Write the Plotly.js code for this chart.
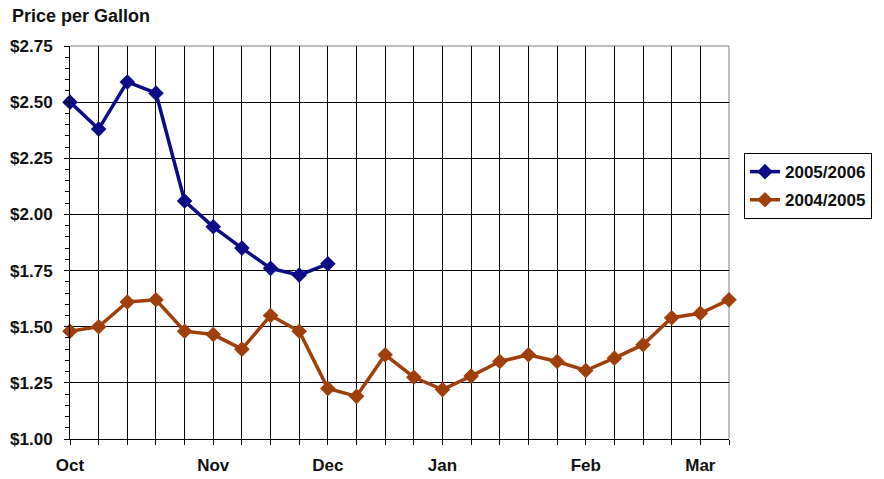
<!DOCTYPE html>
<html>
<head>
<meta charset="utf-8">
<script src="https://cdn.plot.ly/plotly-3.0.1.min.js"></script>
<style>html,body{margin:0;padding:0;background:#fff;}#chart{width:884px;height:479px;}</style>
</head>
<body>
<div id="chart"></div>
<script>
// Weekly points, Oct through early Mar (24 weeks)
var weekLabels = ["Oct","","","","","Nov","","","","Dec","","","","Jan","","","","","Feb","","","","Mar",""];
var season0506 = [2.50, 2.38, 2.59, 2.54, 2.06, 1.945, 1.85, 1.76, 1.73, 1.78];
var season0405 = [1.48, 1.50, 1.61, 1.62, 1.48, 1.465, 1.40, 1.55, 1.48, 1.225, 1.19, 1.375, 1.275, 1.22, 1.28, 1.345, 1.375, 1.345, 1.305, 1.36, 1.42, 1.54, 1.56, 1.62];
var seriesNames = ["2005/2006", "2004/2005"];

var weekIdx = weekLabels.map(function(_, i){ return i; });

var fam = "Liberation Sans, Arial, sans-serif";

var traces = [
  {
    x: weekIdx.slice(0, season0506.length), y: season0506, name: seriesNames[0],
    type: "scatter", mode: "lines+markers", cliponaxis: false,
    legendgroup: "a",
    line: {color: "#0c0c86", width: 3.5},
    marker: {symbol: "diamond", size: 12, color: "#0c0c86"}
  },
  {
    x: weekIdx, y: season0405, name: seriesNames[1],
    type: "scatter", mode: "lines+markers", cliponaxis: false,
    legendgroup: "b",
    line: {color: "#9e3f0c", width: 3.5},
    marker: {symbol: "diamond", size: 12, color: "#9e3f0c"}
  }
];

var layout = {
  width: 884, height: 479,
  margin: {l: 70, r: 155, t: 46, b: 40, pad: 0},
  paper_bgcolor: "#fff", plot_bgcolor: "#fff",
  font: {family: fam, size: 17, color: "#111", weight: "bold"},
  title: {
    text: "<b>Price per Gallon</b>",
    font: {family: fam, size: 18, color: "#111"},
    xref: "container", yref: "container",
    x: 12/884, xanchor: "left",
    y: 1 - 16/479, yanchor: "middle"
  },
  showlegend: true,
  legend: {
    x: (744-70)/659, xanchor: "left",
    y: (438.7-153)/392.7, yanchor: "top",
    bordercolor: "#000", borderwidth: 1, bgcolor: "#fff",
    traceorder: "grouped", tracegroupgap: 3,
    font: {family: fam, size: 17, color: "#111", weight: "bold"}
  },
  xaxis: {
    range: [0, 23],
    tickmode: "array", tickvals: weekIdx, ticktext: weekLabels,
    ticks: "outside", ticklen: 5, tickcolor: "#000", tickwidth: 1,
    showgrid: true, gridcolor: "#000", gridwidth: 1,
    showline: true, linecolor: "#000", linewidth: 1,
    zeroline: false, fixedrange: true,
    ticklabelstandoff: 6,
    tickfont: {family: fam, size: 17, color: "#111", weight: "bold"}
  },
  yaxis: {
    range: [1, 2.75],
    tickmode: "linear", tick0: 1, dtick: 0.25,
    tickformat: "$.2f",
    ticks: "outside", ticklen: 5, tickcolor: "#000", tickwidth: 1,
    minor: {dtick: 0.05, tick0: 1, ticks: "outside", ticklen: 4, tickcolor: "#000", showgrid: false},
    showgrid: true, gridcolor: "#000", gridwidth: 1,
    showline: true, linecolor: "#000", linewidth: 1,
    zeroline: false, fixedrange: true,
    ticklabelstandoff: 8,
    tickfont: {family: fam, size: 17, color: "#111", weight: "bold"}
  },
  shapes: [
    {type: "line", xref: "paper", yref: "paper", x0: 0, x1: 1, y0: 1, y1: 1, line: {color: "#808080", width: 1}, layer: "below"},
    {type: "line", xref: "paper", yref: "paper", x0: 1, x1: 1, y0: 0, y1: 1, line: {color: "#808080", width: 1}, layer: "below"}
  ]
};

Plotly.newPlot("chart", traces, layout, {displayModeBar: false, staticPlot: true});
</script>
</body>
</html>
